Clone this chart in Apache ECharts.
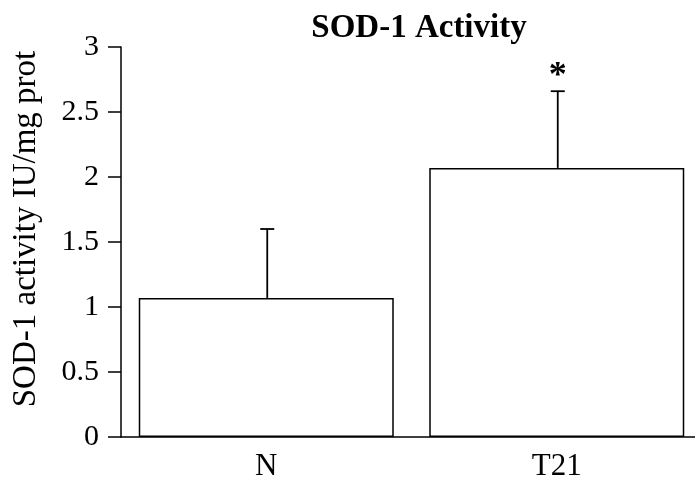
<!DOCTYPE html>
<html>
<head>
<meta charset="utf-8">
<script src="https://cdn.jsdelivr.net/npm/echarts@6/dist/echarts.min.js"></script>
<style>
html,body{margin:0;padding:0;background:#fff;overflow:hidden;width:695px;height:485px;}
#main{width:702px;height:485px;}
</style>
</head>
<body>
<div id="main"></div>
<script>
var categories = ['N', 'T21'];
var means = [1.07, 2.07];
var errors = [0.53, 0.59];
var marks = ['', '*'];
var yTicks = [0, 0.5, 1, 1.5, 2, 2.5, 3];
var yTitle = 'SOD-1 activity IU/mg prot';

var FONT = "'Liberation Serif', 'Times New Roman', serif";
var chart = echarts.init(document.getElementById('main'), null, {renderer: 'canvas'});

var errData = categories.map(function (c, i) { return [i, means[i], errors[i], marks[i]]; });

var option = {
  animation: false,
  backgroundColor: '#fff',
  title: {
    text: 'SOD-1 Activity',
    left: 414, top: 7, textAlign: 'center',
    textStyle: {fontFamily: FONT, fontSize: 33, fontWeight: 'bold', color: '#000'}
  },
  graphic: [{
    type: 'text',
    x: 26, y: 229, rotation: Math.PI / 2,
    style: {text: yTitle, font: '33px ' + FONT, fill: '#000', textAlign: 'center', textVerticalAlign: 'middle'}
  }],
  grid: {left: 121, right: 0, top: 47, bottom: 48},
  xAxis: {
    type: 'category',
    data: categories,
    axisLine: {lineStyle: {color: '#000', width: 1.5}},
    axisTick: {alignWithLabel: true, length: 5, lineStyle: {color: '#000', width: 1.5}},
    axisLabel: {fontFamily: FONT, fontSize: 31, color: '#000', margin: 14}
  },
  yAxis: {
    type: 'value',
    min: yTicks[0], max: yTicks[yTicks.length - 1], interval: 0.5,
    axisLine: {show: true, lineStyle: {color: '#000', width: 1.5}},
    axisTick: {show: true, length: 13, lineStyle: {color: '#000', width: 1.5}},
    axisLabel: {fontFamily: FONT, fontSize: 30, color: '#000', margin: 22},
    splitLine: {show: false}
  },
  series: [
    {
      type: 'bar',
      data: means,
      barWidth: 255,
      itemStyle: {color: '#fff', borderColor: '#000', borderWidth: 1.5},
      z: 2
    },
    {
      type: 'custom',
      data: errData,
      z: 3,
      renderItem: function (params, api) {
        var x = api.value(0);
        var m = api.value(1);
        var e = api.value(2);
        var p0 = api.coord([x, m]);
        var p1 = api.coord([x, m + e]);
        var cx = p0[0] + 1;
        var children = [
          {type: 'line', shape: {x1: cx, y1: p0[1], x2: cx, y2: p1[1]}, style: {stroke: '#000', lineWidth: 1.8}},
          {type: 'line', shape: {x1: cx - 7, y1: p1[1], x2: cx + 7, y2: p1[1]}, style: {stroke: '#000', lineWidth: 1.8}}
        ];
        var mk = marks[params.dataIndex];
        if (mk) {
          children.push({
            type: 'text',
            style: {text: mk, x: cx, y: p1[1] + 4, textAlign: 'center', textVerticalAlign: 'bottom',
              font: 'bold 36px ' + FONT, fill: '#000'}
          });
        }
        return {type: 'group', children: children};
      }
    }
  ]
};
chart.setOption(option);
</script>
</body>
</html>
